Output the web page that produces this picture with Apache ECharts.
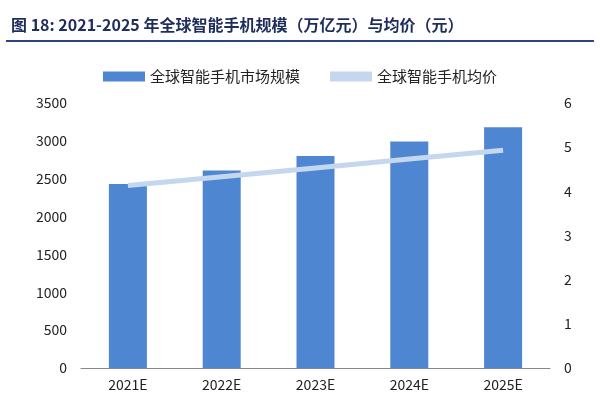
<!DOCTYPE html>
<html>
<head>
<meta charset="utf-8">
<script src="https://cdn.jsdelivr.net/npm/echarts@6/dist/echarts.min.js"></script>
<style>
  body { margin: 0; background: #fff; }
  #chart { width: 600px; height: 400px; }
</style>
</head>
<body>
<div id="chart"></div>
<script>
var years = ['2021E', '2022E', '2023E', '2024E', '2025E'];
var marketSize = [2430, 2610, 2800, 2990, 3180];
var avgPrice = [4.13, 4.33, 4.53, 4.73, 4.93];

var chart = echarts.init(document.getElementById('chart'));
var font = '"Noto Sans CJK SC", sans-serif';
chart.setOption({
  animation: false,
  textStyle: { fontFamily: font },
  title: {
    text: '图 18: 2021-2025 年全球智能手机规模（万亿元）与均价（元）',
    left: 6,
    top: 12,
    textStyle: { color: '#1f2d5a', fontSize: 16, fontWeight: 'bold', fontFamily: font }
  },
  graphic: [{
    type: 'line',
    shape: { x1: 6, y1: 41, x2: 594, y2: 41 },
    style: { stroke: '#2a4488', lineWidth: 2 }
  }],
  legend: {
    top: 64,
    left: 'center',
    itemGap: 30,
    itemWidth: 42,
    itemHeight: 10,
    textStyle: { fontSize: 15, color: '#222' },
    data: [
      { name: '全球智能手机市场规模', icon: 'rect' },
      { name: '全球智能手机均价', icon: 'rect', itemStyle: { color: '#c5d7ef' } }
    ]
  },
  grid: { left: 81, right: 50, top: 103, bottom: 32 },
  xAxis: {
    type: 'category',
    data: years,
    axisLine: { lineStyle: { color: '#888' } },
    axisTick: { show: false },
    axisLabel: { color: '#222', fontSize: 14, margin: 10 }
  },
  yAxis: [{
    type: 'value', min: 0, max: 3500, interval: 500,
    splitLine: { show: false },
    axisLine: { show: false },
    axisLabel: { color: '#222', fontSize: 14, margin: 14, formatter: function (v) { return String(v); } }
  }, {
    type: 'value', min: 0, max: 6, interval: 1,
    splitLine: { show: false },
    axisLine: { show: false },
    axisLabel: { color: '#222', fontSize: 14, margin: 14 }
  }],
  series: [{
    name: '全球智能手机市场规模',
    type: 'bar',
    data: marketSize,
    barWidth: 38,
    itemStyle: { color: '#4e86d1' }
  }, {
    name: '全球智能手机均价',
    type: 'line',
    yAxisIndex: 1,
    data: avgPrice,
    symbol: 'none',
    lineStyle: { color: '#c5d7ef', width: 5 },
    itemStyle: { color: '#c5d7ef' }
  }]
});
</script>
</body>
</html>
